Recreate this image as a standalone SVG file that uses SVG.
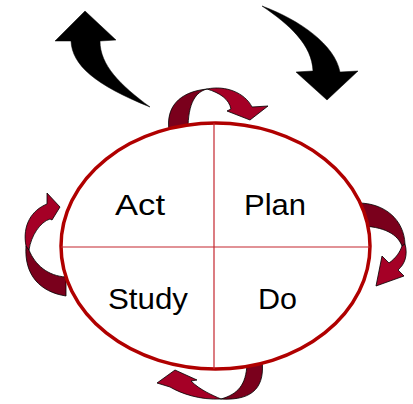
<svg xmlns="http://www.w3.org/2000/svg" width="413" height="404" viewBox="0 0 413 404">
<style>
.dark{fill:#7a001c;stroke:#000;stroke-width:0.8;stroke-linejoin:round}
.light{fill:#a50026;stroke:#000;stroke-width:0.8;stroke-linejoin:round}
.big{fill:#000;stroke:#000;stroke-width:0.5}
.lbl{font-family:"Liberation Sans",Arial,sans-serif;font-size:29px;fill:#000}
.div{stroke:#c4262e;stroke-width:1.2;fill:none}
</style>
<rect width="413" height="404" fill="#fff"/>
<g id="connectors">
<path class="big" d="M85,11 L116,40 L100,41 C100,65 120,85 150,107 C95,85 72,65 71,41 L55,41 Z"/>
<path class="big" d="M262,6 C300,20 335,45 340,72 L358,71 L327,100 L296,72 L313,71 C312,45 290,25 262,6 Z"/>
<path class="dark" d="M169,130 C166,108 178,92 207,89 C196,92 188,102 188,130 Z"/>
<path class="light" d="M207,89 C226,85 245,93 252,107 L268,106 L250,120 L227,111 L231,109 C229,99 220,93 207,89 Z"/>
<path class="dark" d="M26,246 C24,275 40,292 66,296 L66,277 C48,276 35,265 29,250 Z"/>
<path class="light" d="M26,246 C22,225 32,210 47,204 L47,193 L60,207 L52,220 L50,219 C40,222 31,236 29,250 Z"/>
<path class="dark" d="M358,203 C385,203 404,220 405,244 L402,246 C398,235 385,226 358,226 Z"/>
<path class="light" d="M405,244 C408,255 405,264 398,270 L404,276 L376,286 L382,256 L389,263 C396,258 400,252 402,246 Z"/>
<path class="dark" d="M262,360 C265,385 255,401 221,399 C238,394 246,385 247,364 Z"/>
<path class="light" d="M221,399 C200,400 182,394 170,387 L157,383 L175,370 L197,380 L191,381 C200,390 212,395 221,399 Z"/>
</g>
<g id="cycle">
<ellipse cx="215.5" cy="246" rx="154.5" ry="123" fill="#fff" stroke="#b00000" stroke-width="3.5"/>
<line class="div" x1="214" y1="123" x2="214" y2="369"/>
<line class="div" x1="61" y1="247" x2="370" y2="247"/>
</g>
<g id="act"><text class="lbl" x="115" y="215" textLength="50" lengthAdjust="spacingAndGlyphs">Act</text></g>
<g id="plan"><text class="lbl" x="244" y="215" textLength="62" lengthAdjust="spacingAndGlyphs">Plan</text></g>
<g id="study"><text class="lbl" x="108" y="309" textLength="80" lengthAdjust="spacingAndGlyphs">Study</text></g>
<g id="do"><text class="lbl" x="258" y="309" textLength="39" lengthAdjust="spacingAndGlyphs">Do</text></g>
</svg>
